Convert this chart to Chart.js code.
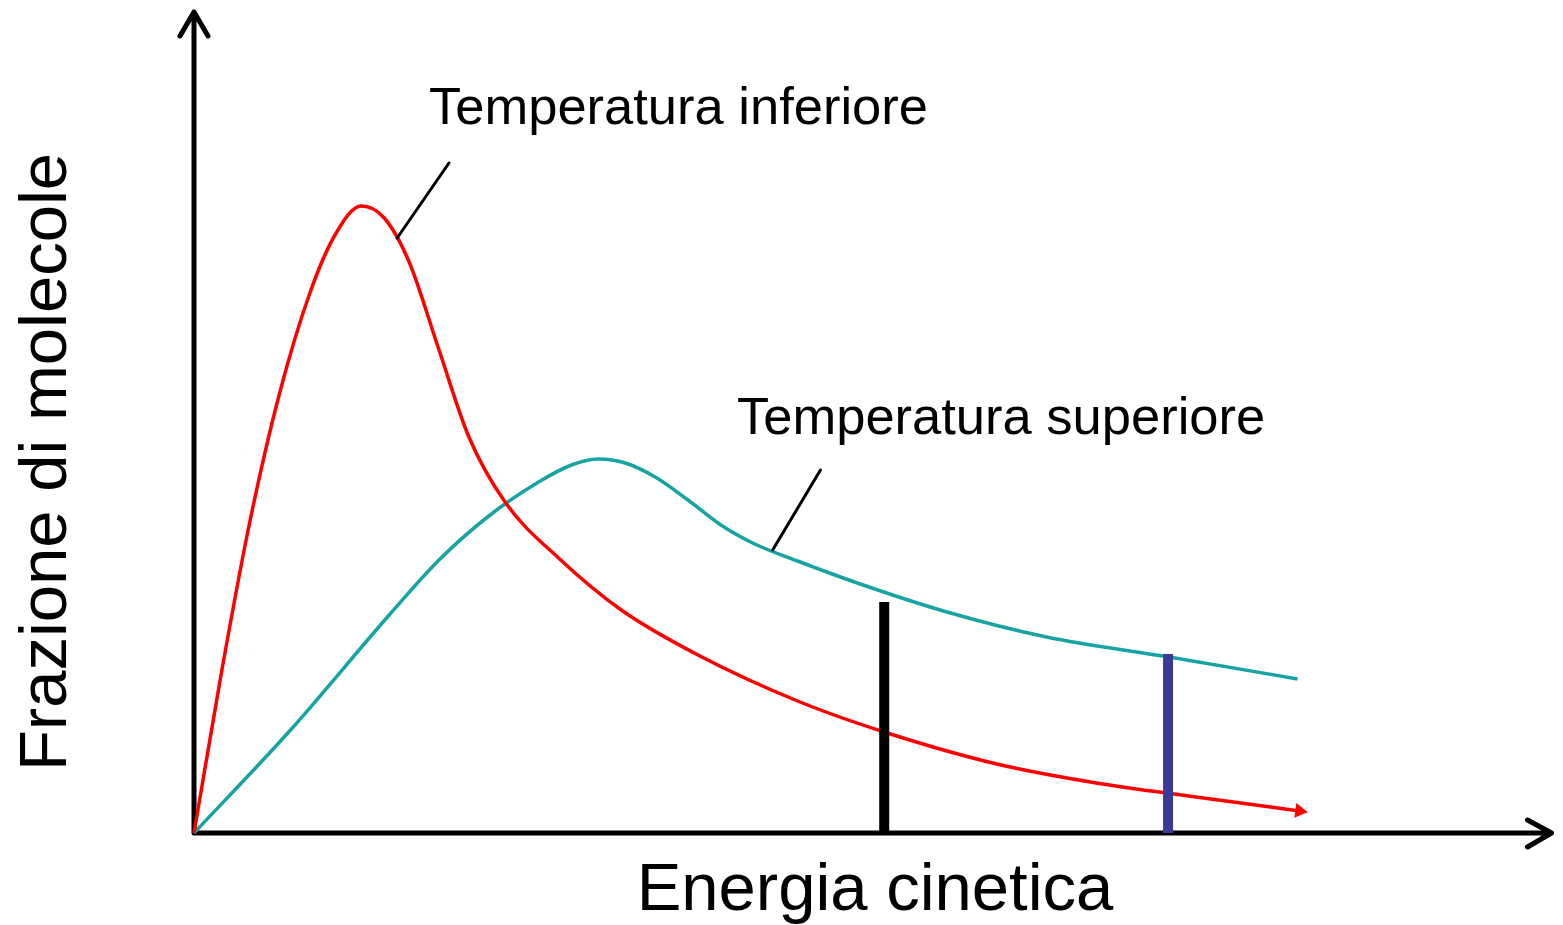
<!DOCTYPE html>
<html>
<head>
<meta charset="utf-8">
<script src="https://cdn.jsdelivr.net/npm/chart.js@4.4.1/dist/chart.umd.min.js"></script>
<style>
  html, body { margin: 0; padding: 0; background: #fff; }
  canvas { display: block; }
</style>
</head>
<body>
<canvas id="chart" width="1563" height="925"></canvas>
<script>
// energy on x, fraction of molecules on y (arbitrary units)
const lowTempEnergy = [0, 28, 56, 86, 116, 141, 168, 191, 216, 246, 276, 313, 366, 429, 506, 606, 693, 806, 906, 1006, 1110];
const lowTempFraction = [0, 163, 311, 440, 539, 597, 627, 615, 571, 483, 396, 330, 275, 223, 178, 132, 101, 69, 50, 36, 22];

const highTempEnergy = [0, 96, 196, 246, 296, 346, 379, 406, 433, 463, 496, 529, 563, 606, 666, 756, 856, 979, 1108];
const highTempFraction = [0, 102, 218, 273, 317, 351, 368, 374, 370, 356, 333, 308, 289, 272, 250, 221, 196, 176, 154];

// activation energy markers
const markerEnergy = [693, 978];
const markerHeight = [231, 179];
const markerColors = ["#000000", "#3a3a99"];

const labelLow = "Temperatura inferiore";
const labelHigh = "Temperatura superiore";
const xTitle = "Energia cinetica";
const yTitle = "Frazione di molecole";

// leader lines from labels to curves
const leaderLow = [[204, 595], [256, 670]];
const leaderHigh = [[581, 283], [629, 363]];

const toPoints = (xs, ys) => xs.map((x, i) => ({ x: x, y: ys[i] }));

const curve = (label, xs, ys, color) => ({
  label: label,
  data: toPoints(xs, ys),
  borderColor: color,
  backgroundColor: color,
  borderWidth: 3.5,
  cubicInterpolationMode: "monotone",
  pointRadius: 0,
  order: 2,
});

const lowCurve = curve(labelLow, lowTempEnergy, lowTempFraction, "#ff0000");
// little arrow tip at the end of the red curve
lowCurve.pointRadius = lowTempEnergy.map((_, i) => (i === lowTempEnergy.length - 1 ? 5 : 0));
lowCurve.pointStyle = "triangle";
lowCurve.pointRotation = 98;

const datasets = [
  lowCurve,
  curve(labelHigh, highTempEnergy, highTempFraction, "#17a3a3"),
];

markerEnergy.forEach((e, i) => {
  datasets.push({
    data: [{ x: e, y: 0 }, { x: e, y: markerHeight[i] }],
    borderColor: markerColors[i],
    borderWidth: 10,
    borderCapStyle: "butt",
    pointRadius: 0,
    order: 0,
  });
});

[leaderLow, leaderHigh].forEach((seg) => {
  datasets.push({
    data: seg.map((p) => ({ x: p[0], y: p[1] })),
    borderColor: "#000000",
    borderWidth: 3,
    borderCapStyle: "round",
    pointRadius: 0,
    order: 1,
  });
});

const axesPlugin = {
  id: "axes",
  beforeDatasetsDraw(chart) {
    const ctx = chart.ctx;
    const x0 = chart.scales.x.getPixelForValue(0);
    const y0 = chart.scales.y.getPixelForValue(0);
    const area = chart.chartArea;
    ctx.save();
    ctx.strokeStyle = "#000";
    ctx.lineWidth = 5;
    ctx.lineCap = "round";
    ctx.lineJoin = "round";
    ctx.beginPath();
    ctx.moveTo(x0, y0);
    ctx.lineTo(x0, area.top + 2);
    ctx.moveTo(x0, y0);
    ctx.lineTo(area.right - 3, y0);
    // arrow heads
    ctx.moveTo(x0 - 14, area.top + 26);
    ctx.lineTo(x0, area.top + 2);
    ctx.lineTo(x0 + 14, area.top + 26);
    ctx.moveTo(area.right - 27, y0 - 13);
    ctx.lineTo(area.right - 3, y0);
    ctx.lineTo(area.right - 27, y0 + 14);
    ctx.stroke();
    ctx.restore();
  },
  afterDraw(chart) {
    const ctx = chart.ctx;
    ctx.save();
    ctx.fillStyle = "#000";
    ctx.textBaseline = "alphabetic";
    ctx.textAlign = "left";
    ctx.font = "52.5px 'Liberation Sans', Arial, sans-serif";
    ctx.fillText(labelLow, 429, 124);
    ctx.fillText(labelHigh, 737, 434);
    ctx.font = "67px 'Liberation Sans', Arial, sans-serif";
    ctx.textAlign = "center";
    ctx.fillText(xTitle, 875, 910);
    ctx.translate(66, 462);
    ctx.rotate(-Math.PI / 2);
    ctx.fillText(yTitle, 0, 0);
    ctx.restore();
  },
};

new Chart(document.getElementById("chart"), {
  type: "line",
  data: { datasets: datasets },
  options: {
    responsive: false,
    animation: false,
    layout: { padding: { left: 194, right: 3, top: 10, bottom: 92 } },
    scales: {
      x: { type: "linear", min: 0, max: 1366, display: false },
      y: { type: "linear", min: 0, max: 823, display: false },
    },
    plugins: {
      legend: { display: false },
      tooltip: { enabled: false },
    },
    elements: { line: { fill: false } },
    datasets: { line: { clip: false } },
  },
  plugins: [axesPlugin],
});
</script>
</body>
</html>
